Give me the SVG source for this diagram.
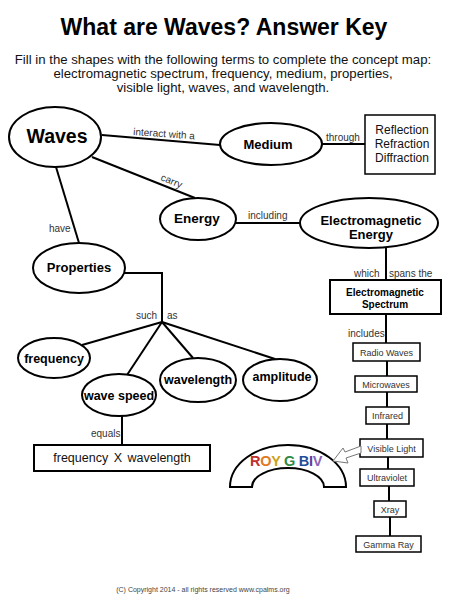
<svg xmlns="http://www.w3.org/2000/svg" width="450" height="600" viewBox="0 0 450 600">
<style>
text{font-family:"Liberation Sans",Arial,sans-serif;}
.node{fill:#fff;stroke:#000;stroke-width:2;}
.box{fill:#fff;stroke:#000;stroke-width:1.5;}
.nb{font-weight:bold;fill:#000;text-anchor:middle;}
.lbl{font-size:10px;fill:#333;}
.sm{font-size:9px;fill:#333;text-anchor:middle;}
.conn line,.conn polyline{stroke:#000;stroke-width:2;fill:none;}
</style>
<rect width="450" height="600" fill="#fff"/>
<g id="title">
<text x="224" y="35" font-size="23" font-weight="bold" text-anchor="middle">What are Waves? Answer Key</text>
<text x="223" y="63.5" font-size="13.2" text-anchor="middle" fill="#111">Fill in the shapes with the following terms to complete the concept map:</text>
<text x="223" y="77.5" font-size="13.2" text-anchor="middle" fill="#111">electromagnetic spectrum, frequency, medium, properties,</text>
<text x="223" y="91.5" font-size="13.2" text-anchor="middle" fill="#111">visible light, waves, and wavelength.</text>
</g>
<g class="conn" id="connectors">
<line x1="102" y1="135" x2="220" y2="145"/>
<line x1="322" y1="144" x2="365" y2="144"/>
<line x1="92" y1="157" x2="195" y2="198"/>
<line x1="235" y1="223" x2="300" y2="223"/>
<line x1="56" y1="167" x2="79" y2="243"/>
<polyline points="123,273 162,273 162,322"/>
<line x1="162" y1="322" x2="82" y2="345"/>
<line x1="162" y1="322" x2="127" y2="375"/>
<line x1="162" y1="322" x2="193" y2="358"/>
<line x1="162" y1="322" x2="275" y2="359"/>
<line x1="122" y1="416" x2="122" y2="445"/>
<line x1="386" y1="248" x2="386" y2="280"/>
<line x1="386" y1="314" x2="386" y2="343"/>
<line x1="387" y1="361" x2="387" y2="376"/>
<line x1="387" y1="392" x2="387" y2="407"/>
<line x1="387" y1="424" x2="387" y2="439"/>
<line x1="388" y1="457" x2="388" y2="469"/>
<line x1="389" y1="486" x2="389" y2="501"/>
<line x1="390" y1="517" x2="390" y2="536"/>
</g>
<g id="labels">
<text class="lbl" x="133" y="135" transform="rotate(4 133 135)">interact with a</text>
<text class="lbl" x="326" y="141">through</text>
<text class="lbl" x="160" y="180" transform="rotate(22 160 180)">carry</text>
<text class="lbl" x="248" y="219">including</text>
<text class="lbl" x="49" y="232">have</text>
<text class="lbl" x="136" y="319">such</text>
<text class="lbl" x="167" y="319">as</text>
<text class="lbl" x="91" y="437">equals</text>
<text class="lbl" x="354" y="277">which</text>
<text class="lbl" x="389" y="277">spans the</text>
<text class="lbl" x="348" y="337">includes</text>
</g>
<g id="waves"><ellipse class="node" cx="55" cy="137" rx="46" ry="30"/><text class="nb" x="57" y="143" font-size="19.5">Waves</text></g>
<g id="medium"><ellipse class="node" cx="271" cy="144" rx="51" ry="21"/><text class="nb" x="268" y="149" font-size="13">Medium</text></g>
<g id="reflection"><rect class="box" x="365" y="115" width="70" height="59"/>
<text x="402" y="134" font-size="12" text-anchor="middle" fill="#111">Reflection</text>
<text x="402" y="148" font-size="12" text-anchor="middle" fill="#111">Refraction</text>
<text x="402" y="162" font-size="12" text-anchor="middle" fill="#111">Diffraction</text></g>
<g id="energy"><ellipse class="node" cx="198" cy="219" rx="38" ry="21"/><text class="nb" x="197" y="223" font-size="13.5">Energy</text></g>
<g id="em-energy"><ellipse class="node" cx="369" cy="223" rx="69" ry="25"/><text class="nb" x="371" y="225" font-size="13">Electromagnetic</text><text class="nb" x="371" y="239" font-size="13">Energy</text></g>
<g id="properties"><ellipse class="node" cx="79" cy="268" rx="46" ry="25"/><text class="nb" x="79" y="272" font-size="13">Properties</text></g>
<g id="frequency"><ellipse class="node" cx="54" cy="358" rx="36" ry="20"/><text class="nb" x="54" y="363" font-size="12.5">frequency</text></g>
<g id="wave-speed"><ellipse class="node" cx="119" cy="395" rx="37" ry="21"/><text class="nb" x="119" y="400" font-size="12.5">wave speed</text></g>
<g id="wavelength"><ellipse class="node" cx="198" cy="380" rx="38" ry="22"/><text class="nb" x="198" y="384" font-size="12.5">wavelength</text></g>
<g id="amplitude"><ellipse class="node" cx="280" cy="380" rx="37" ry="21"/><text class="nb" x="282" y="381" font-size="12.5">amplitude</text></g>
<g id="fxw"><rect class="node" x="34" y="445" width="176" height="26"/><text x="122" y="462" font-size="12.5" text-anchor="middle" fill="#111" word-spacing="2">frequency X wavelength</text></g>
<g id="em-spectrum"><rect class="node" x="330" y="280" width="111" height="34"/><text class="nb" x="385" y="296" font-size="10">Electromagnetic</text><text class="nb" x="385" y="308" font-size="10">Spectrum</text></g>
<g id="radio"><rect class="box" x="353" y="343" width="67" height="18"/><text class="sm" x="386.5" y="355.5">Radio Waves</text></g>
<g id="micro"><rect class="box" x="355" y="376" width="62" height="16"/><text class="sm" x="386" y="387.5">Microwaves</text></g>
<g id="infrared"><rect class="box" x="366" y="407" width="43" height="17"/><text class="sm" x="387.5" y="418.5">Infrared</text></g>
<g id="visible"><rect class="box" x="360" y="439" width="63" height="18"/><text class="sm" x="391.5" y="451.5">Visible Light</text></g>
<g id="uv"><rect class="box" x="360" y="469" width="54" height="17"/><text class="sm" x="387" y="480.5">Ultraviolet</text></g>
<g id="xray"><rect class="box" x="374" y="501" width="32" height="16"/><text class="sm" x="390" y="512.5">Xray</text></g>
<g id="gamma"><rect class="box" x="356" y="536" width="65" height="16"/><text class="sm" x="388.5" y="547.5">Gamma Ray</text></g>
<g id="roygbiv">
<path d="M230,487 A58,42 0 0 1 346,487 L324,487 A36,19 0 0 0 252,487 Z" fill="#fff" stroke="#000" stroke-width="2"/>
<text x="286" y="466" font-size="14.5" font-weight="bold" text-anchor="middle" letter-spacing="-0.3"><tspan fill="#c0302a">R</tspan><tspan fill="#e07b22">O</tspan><tspan fill="#c9a31a">Y</tspan> <tspan fill="#2f8a45">G</tspan> <tspan fill="#1f4f9a">B</tspan><tspan fill="#5a3c9c">I</tspan><tspan fill="#8a62b5">V</tspan></text>
<polygon points="361,453 346,458 348,463 333,461 343,448 345,452 361,446" fill="#fff" stroke="#777" stroke-width="1"/>
</g>
<text x="203" y="592" font-size="7" text-anchor="middle" fill="#444">(C) Copyright 2014 - all rights reserved www.cpalms.org</text>
</svg>
